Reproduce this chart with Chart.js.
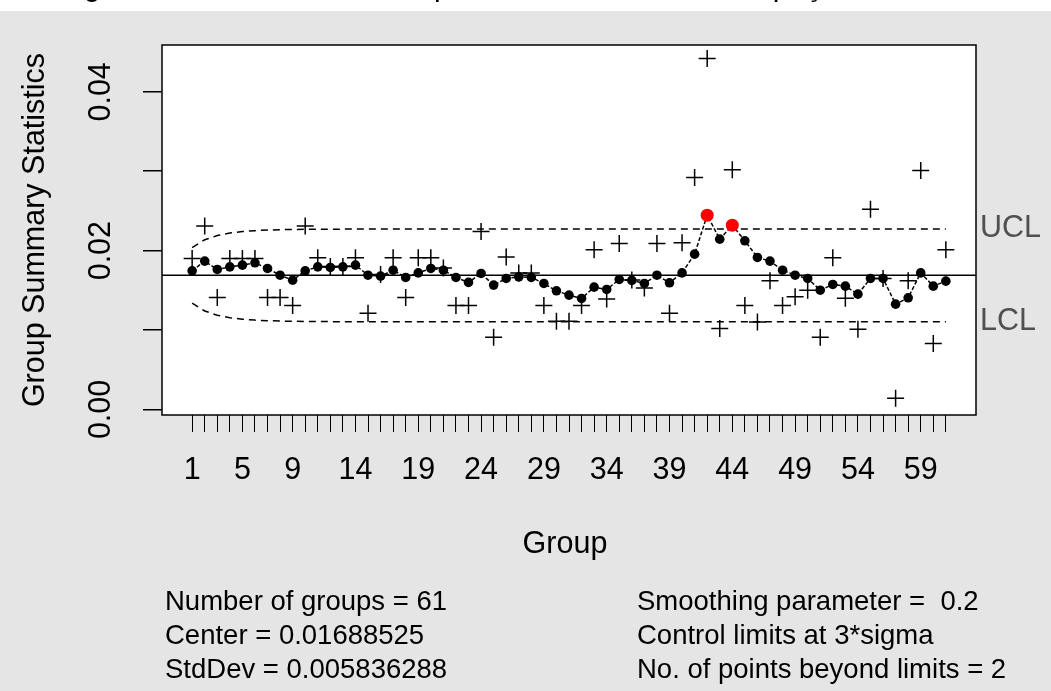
<!DOCTYPE html>
<html>
<head>
<meta charset="utf-8">
<title>EWMA</title>
<script src="https://cdn.jsdelivr.net/npm/chart.js@4.4.0/dist/chart.umd.min.js"></script>
<style>
    html, body { margin: 0; padding: 0; background: #e5e5e5; }
    #wrap { width: 1051px; height: 691px; }
</style>
</head>
<body>
<div id="wrap"><canvas id="ewma" width="1051" height="691"></canvas></div>
<script>
// EWMA chart - group statistics, smoothed values and control limits

const groups = Array.from({ length: 61 }, (_, i) => i + 1);

// Raw group summary statistics (drawn as +)
const groupStats = [
    0.0190, 0.0231, 0.0141, 0.0190, 0.0190, 0.0190, 0.0141, 0.0141, 0.0131, 0.0231,
    0.0191, 0.0180, 0.0180, 0.0191, 0.0121, 0.0170, 0.0191, 0.0141, 0.0191, 0.0191,
    0.0178, 0.0131, 0.0131, 0.0224, 0.0091, 0.0192, 0.0172, 0.0172, 0.0131, 0.0111,
    0.0111, 0.0131, 0.0201, 0.0139, 0.0209, 0.0163, 0.0153, 0.0209, 0.0121, 0.0210,
    0.0292, 0.0442, 0.0102, 0.0302, 0.0131, 0.0110, 0.0162, 0.0131, 0.0142, 0.0150,
    0.0091, 0.0191, 0.0140, 0.0101, 0.0252, 0.0165, 0.0014, 0.0162, 0.0301, 0.0083,
    0.0201
];

// Smoothed (EWMA) values
const ewmaValues = [
    0.01746, 0.01868, 0.01763, 0.01796, 0.01817, 0.01847, 0.01776, 0.01691, 0.01628, 0.01746,
    0.01796, 0.01788, 0.01796, 0.01817, 0.01691, 0.01679, 0.01754, 0.01662, 0.01720, 0.01776,
    0.01754, 0.01662, 0.01600, 0.01713, 0.01566, 0.01650, 0.01670, 0.01662, 0.01587, 0.01494,
    0.01440, 0.01398, 0.01540, 0.01511, 0.01637, 0.01625, 0.01587, 0.01691, 0.01595, 0.01720,
    0.01956, 0.02447, 0.02145, 0.02321, 0.02124, 0.01914, 0.01868, 0.01754, 0.01691, 0.01650,
    0.01502, 0.01574, 0.01553, 0.01452, 0.01650, 0.01650, 0.01326, 0.01406, 0.01720, 0.01553,
    0.01616
];

// Control limits per group
const uclValues = [
    0.02039, 0.02137, 0.02190, 0.02221, 0.02240, 0.02252, 0.02259, 0.02264, 0.02267, 0.02269,
    0.02270, 0.02271, 0.02271, 0.02272, 0.02272, 0.02272, 0.02272, 0.02272, 0.02272, 0.02272,
    0.02272, 0.02272, 0.02272, 0.02272, 0.02272, 0.02272, 0.02272, 0.02272, 0.02272, 0.02272,
    0.02272, 0.02272, 0.02272, 0.02272, 0.02272, 0.02272, 0.02272, 0.02272, 0.02272, 0.02272,
    0.02272, 0.02272, 0.02272, 0.02272, 0.02272, 0.02272, 0.02272, 0.02272, 0.02272, 0.02272,
    0.02272, 0.02272, 0.02272, 0.02272, 0.02272, 0.02272, 0.02272, 0.02272, 0.02272, 0.02272,
    0.02272
];
const lclValues = [
    0.01338, 0.01240, 0.01187, 0.01156, 0.01137, 0.01125, 0.01118, 0.01113, 0.01110, 0.01108,
    0.01107, 0.01106, 0.01106, 0.01105, 0.01105, 0.01105, 0.01105, 0.01105, 0.01105, 0.01105,
    0.01105, 0.01105, 0.01105, 0.01105, 0.01105, 0.01105, 0.01105, 0.01105, 0.01105, 0.01105,
    0.01105, 0.01105, 0.01105, 0.01105, 0.01105, 0.01105, 0.01105, 0.01105, 0.01105, 0.01105,
    0.01105, 0.01105, 0.01105, 0.01105, 0.01105, 0.01105, 0.01105, 0.01105, 0.01105, 0.01105,
    0.01105, 0.01105, 0.01105, 0.01105, 0.01105, 0.01105, 0.01105, 0.01105, 0.01105, 0.01105,
    0.01105
];

const center = 0.01688525;
const stdDev = 0.005836288;

// Axis ticks and labels
const xTickLabels = [1, 5, 9, 14, 19, 24, 29, 34, 39, 44, 49, 54, 59];
const yTicks = [0, 0.01, 0.02, 0.03, 0.04];
const yTickLabels = ['0.00', '', '0.02', '', '0.04'];

const xRange = [-1.4, 63.4];
const yRange = [-0.0007, 0.0459];

const titleText = 'Figura 5. Gráfico de EWMA para a taxa média de ocupação';
const statsLeft = [
    'Number of groups = ' + groups.length,
    'Center = ' + center,
    'StdDev = ' + stdDev
];

const FONT = '"Liberation Sans", Arial, sans-serif';

// Points beyond the limits are shown in red
const beyond = ewmaValues.map((v, i) => v > uclValues[i] || v < lclValues[i]);
const statsRight = [
    'Smoothing parameter =  0.2',
    'Control limits at 3*sigma',
    'No. of points beyond limits = ' + beyond.filter(Boolean).length
];

const toPoints = ys => ys.map((y, i) => ({ x: groups[i], y: y }));

// Background, plot box and all the R-style text around the plot
const decorations = {
    id: 'decorations',
    beforeDraw(chart) {
        const { ctx, chartArea: a } = chart;
        ctx.save();
        ctx.fillStyle = '#e5e5e5';
        ctx.fillRect(0, 0, chart.width, chart.height);
        ctx.fillStyle = '#ffffff';
        ctx.fillRect(0, 0, chart.width, 11);
        ctx.fillRect(a.left, a.top, a.right - a.left, a.bottom - a.top);
        ctx.restore();
    },
    afterDraw(chart) {
        const { ctx, chartArea: a } = chart;
        const yScale = chart.scales.y;
        ctx.save();

        // plot frame
        ctx.strokeStyle = '#000';
        ctx.lineWidth = 1.5;
        ctx.strokeRect(a.left, a.top, a.right - a.left, a.bottom - a.top);

        // title, only its lowest part reaches into the page
        ctx.fillStyle = '#000';
        ctx.font = '30px ' + FONT;
        ctx.textAlign = 'left';
        ctx.textBaseline = 'alphabetic';
        ctx.fillText(titleText, 59, -4);

        // y tick labels, rotated like base R
        ctx.font = '30.5px ' + FONT;
        ctx.textAlign = 'center';
        ctx.textBaseline = 'middle';
        yTicks.forEach((v, i) => {
            if (!yTickLabels[i]) return;
            ctx.save();
            ctx.translate(102, yScale.getPixelForValue(v));
            ctx.rotate(-Math.PI / 2);
            ctx.fillText(yTickLabels[i], 0, 0);
            ctx.restore();
        });

        // axis titles
        ctx.save();
        ctx.translate(36, (a.top + a.bottom) / 2);
        ctx.rotate(-Math.PI / 2);
        ctx.fillText('Group Summary Statistics', 0, 0);
        ctx.restore();
        ctx.fillText('Group', (a.left + a.right) / 2 - 4, 545);

        // limit labels at the right
        ctx.fillStyle = '#505050';
        ctx.textAlign = 'left';
        const last = groups.length - 1;
        ctx.fillText('UCL', a.right + 4, yScale.getPixelForValue(uclValues[last]));
        ctx.fillText('LCL', a.right + 4, yScale.getPixelForValue(lclValues[last]));

        // summary block
        ctx.fillStyle = '#000';
        ctx.font = '27.5px ' + FONT;
        statsLeft.forEach((t, i) => ctx.fillText(t, 165, 602 + i * 34));
        statsRight.forEach((t, i) => ctx.fillText(t, 637, 602 + i * 34));

        ctx.restore();
    }
};

new Chart(document.getElementById('ewma'), {
    type: 'scatter',
    data: {
        datasets: [
            {
                label: 'EWMA',
                data: toPoints(ewmaValues),
                showLine: true,
                borderColor: '#000',
                borderWidth: 1.5,
                borderDash: [4, 2],
                pointRadius: beyond.map(b => b ? 6.5 : 4.8),
                pointBackgroundColor: beyond.map(b => b ? '#ff0000' : '#000'),
                pointBorderWidth: 0,
                tension: 0,
                order: 0
            },
            {
                label: 'Group statistics',
                data: toPoints(groupStats),
                showLine: false,
                pointStyle: 'cross',
                pointRadius: 8.5,
                pointBorderWidth: 1.5,
                borderColor: '#000',
                order: 1
            },
            {
                label: 'Center',
                data: [{ x: xRange[0], y: center }, { x: xRange[1], y: center }],
                showLine: true,
                borderColor: '#000',
                borderWidth: 1.5,
                pointRadius: 0,
                order: 2
            },
            {
                label: 'UCL',
                data: toPoints(uclValues),
                showLine: true,
                borderColor: '#000',
                borderWidth: 1.5,
                borderDash: [7, 5],
                pointRadius: 0,
                order: 2
            },
            {
                label: 'LCL',
                data: toPoints(lclValues),
                showLine: true,
                borderColor: '#000',
                borderWidth: 1.5,
                borderDash: [7, 5],
                pointRadius: 0,
                order: 2
            }
        ]
    },
    options: {
        responsive: false,
        animation: false,
        events: [],
        layout: { padding: { top: 45, right: 75, left: 0, bottom: 0 } },
        plugins: {
            legend: { display: false },
            tooltip: { enabled: false }
        },
        scales: {
            x: {
                type: 'linear',
                min: xRange[0],
                max: xRange[1],
                afterBuildTicks(scale) {
                    scale.ticks = groups.map(v => ({ value: v }));
                },
                afterFit(scale) {
                    scale.height = 276;
                },
                ticks: {
                    autoSkip: false,
                    maxRotation: 0,
                    minRotation: 0,
                    padding: 20,
                    color: '#000',
                    font: { family: FONT, size: 30.5 },
                    callback: v => xTickLabels.includes(v) ? String(v) : ''
                },
                grid: {
                    drawOnChartArea: false,
                    drawTicks: true,
                    tickLength: 17,
                    color: '#000',
                    lineWidth: 1
                },
                border: { display: false }
            },
            y: {
                type: 'linear',
                min: yRange[0],
                max: yRange[1],
                afterBuildTicks(scale) {
                    scale.ticks = yTicks.map(v => ({ value: v }));
                },
                afterFit(scale) {
                    scale.width = 162;
                },
                ticks: { display: false },
                grid: {
                    drawOnChartArea: false,
                    drawTicks: true,
                    tickLength: 19,
                    color: '#000',
                    lineWidth: 1.5
                },
                border: { display: false }
            }
        }
    },
    plugins: [decorations]
});
</script>
</body>
</html>
